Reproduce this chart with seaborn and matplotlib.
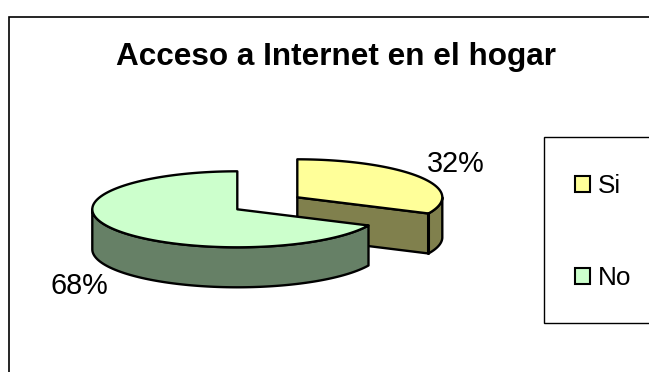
import numpy as np
import matplotlib
matplotlib.use("Agg")
import matplotlib.pyplot as plt
from matplotlib.patches import Polygon, Rectangle, Patch
import seaborn as sns

title = "Acceso a Internet en el hogar"
categories = ["Si", "No"]
shares = [32, 68]
face_colors = ["#FFFF99", "#CCFFCC"]

sns.set_theme(style="white")
plt.rcParams["font.family"] = ["Liberation Sans", "DejaVu Sans"]
palette = sns.color_palette(face_colors)

W, H = 649, 372
fig = plt.figure(figsize=(W / 100, H / 100), dpi=100, facecolor="white")
ax = fig.add_axes([0, 0, 1, 1])
ax.set_xlim(0, W)
ax.set_ylim(H, 0)
ax.axis("off")

# Pie geometry in pixel units
RX, RY, DEPTH = 145, 38, 40
CENTER = np.array([237.3, 209.3])
EXPLODE = np.array([60.0, -12.0])
EDGE = dict(edgecolor="black", linewidth=1.7, joinstyle="round")


def arc(center, a0, a1, n=120):
    t = np.radians(np.linspace(a0, a1, n))
    return np.column_stack([center[0] + RX * np.cos(t), center[1] - RY * np.sin(t)])


def side(points):
    lowered = points[::-1] + [0, DEPTH]
    return np.vstack([points, lowered])


def shade(color):
    return tuple(c * 0.5 for c in color)


# Angles run clockwise from twelve o'clock in slice order
sweep = [s / sum(shares) * 360 for s in shares]
si_end = 90 - sweep[0]

# Exploded "Si" slice: cut wall, outer rim, then top face
apex = CENTER + EXPLODE
rim = arc(apex, si_end, 0, 40)
end_pt = rim[0]
ax.add_patch(Polygon(side(rim), facecolor=shade(palette[0]), **EDGE))
ax.add_patch(Polygon(side(np.array([apex, end_pt])), facecolor=shade(palette[0]), **EDGE))
ax.plot([end_pt[0]] * 2, [end_pt[1], end_pt[1] + DEPTH], color="black", lw=2.2)
ax.add_patch(Polygon(np.vstack([[apex], arc(apex, si_end, 90)]), facecolor=palette[0], **EDGE))

# "No" slice: visible rim, then top face
no_start, no_end = 90, 90 + sweep[1]
ax.add_patch(Polygon(side(arc(CENTER, 180, no_end)), facecolor=shade(palette[1]), **EDGE))
ax.add_patch(Polygon(np.vstack([[CENTER], arc(CENTER, no_start, no_end, 200)]), facecolor=palette[1], **EDGE))

# Percentage labels
ax.text(455.5, 164, f"{shares[0]}%", fontsize=20.8, ha="center", va="center", color="black")
ax.text(79.5, 286, f"{shares[1]}%", fontsize=20.8, ha="center", va="center", color="black")

# Chart title
ax.text(336, 57, title, fontsize=22.7, fontweight="bold", ha="center", va="center", color="black")

# Outer chart border, cropped at the right and bottom
ax.plot([9, 9, W], [H, 17, 17], color="black", lw=1.2, solid_joinstyle="miter")

# Legend frame and entries
ax.add_patch(Rectangle((543.5, 137), 120, 186, facecolor="white", edgecolor="black", lw=1.0))
handles = [Patch(facecolor=c, edgecolor="black", linewidth=1.5) for c in palette]
ax.legend(handles, categories, loc="center left", bbox_to_anchor=(575 / W, 1 - 232 / H),
          frameon=False, fontsize=18.8, handlelength=0.58, handleheight=0.58,
          handletextpad=0.3, labelspacing=2.6, borderpad=0, borderaxespad=0, labelcolor="black")

fig.savefig("out.png", dpi=100, facecolor="white")
